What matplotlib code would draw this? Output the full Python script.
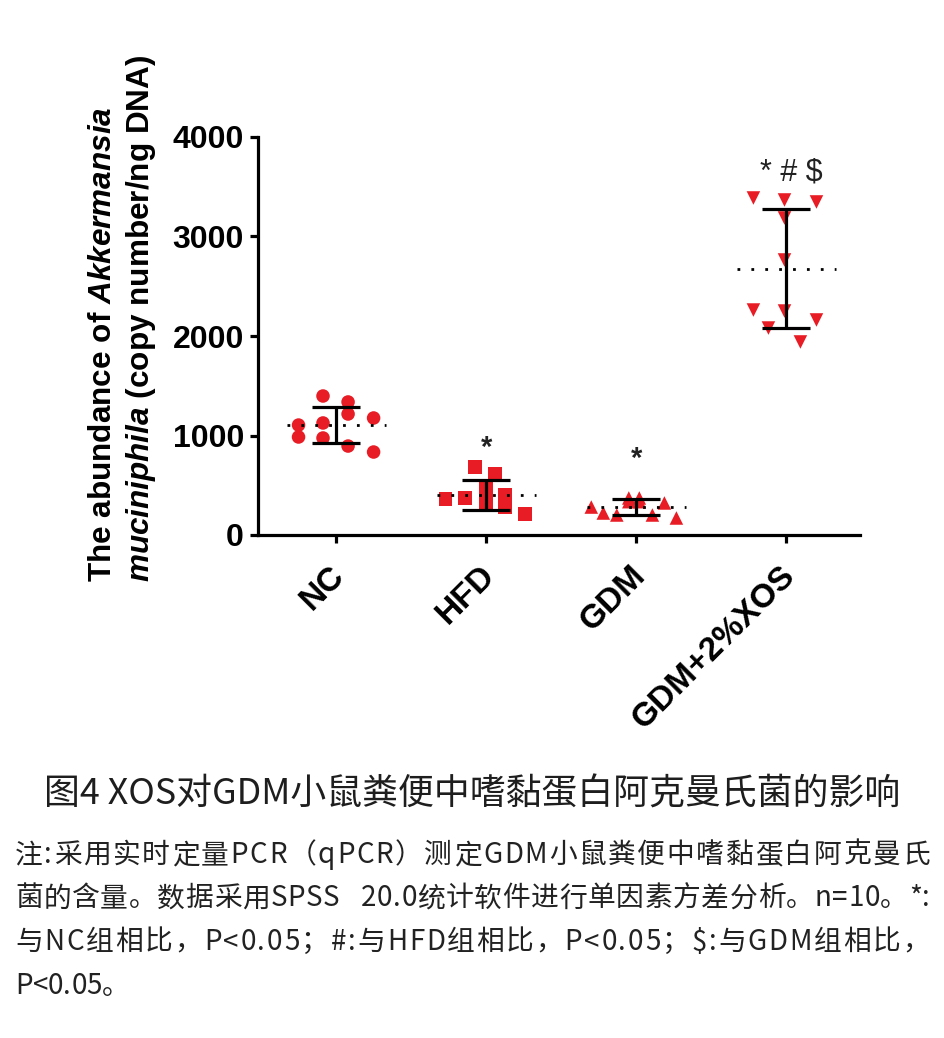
import numpy as np
import matplotlib
matplotlib.use("Agg")
from matplotlib import pyplot as plt
from matplotlib import transforms
from matplotlib.font_manager import findfont, FontProperties, get_font

# data (copy number / ng DNA)
groups = ["NC", "HFD", "GDM", "GDM+2%XOS"]
nc_vals = [1397, 1337, 1216, 1176, 1105, 1126, 985, 975, 894, 834]
hfd_vals = [683, 613, 362, 372, 402, 281, 211, 462, 322, 312]
gdm_vals = [281, 221, 201, 372, 372, 201, 322, 171, 335, 335]
xos_vals = [3387, 3367, 3347, 3186, 2764, 2261, 2251, 2161, 2080, 1940]
sig_labels = ["", "*", "*", "* # $"]
sig_heights = [0, 874, 764, 3648]
y_ticks = [0, 1000, 2000, 3000, 4000]

# horizontal scatter of the points inside each group (layout only)
jitter = [
    [-0.087, 0.08, 0.08, 0.25, -0.25, -0.087, -0.25, -0.087, 0.08, 0.25],
    [-0.073, 0.06, -0.27, -0.14, 0.127, 0.127, 0.26, 0.0, 0.0, 0.127],
    [-0.30, -0.22, -0.13, -0.05, 0.02, 0.107, 0.187, 0.267, -0.05, 0.02],
    [-0.22, -0.013, 0.20, -0.013, -0.013, -0.22, -0.013, 0.20, -0.12, 0.093],
]
markers = ["o", "s", "^", "v"]
RED = "#e81c24"
W, H = 945, 1038

plt.rcParams["font.family"] = ["Liberation Sans", "DejaVu Sans"]
plt.rcParams["mathtext.fontset"] = "custom"
plt.rcParams["mathtext.it"] = "Liberation Sans:italic:bold"
plt.rcParams["mathtext.rm"] = "Liberation Sans:bold"

fig = plt.figure(figsize=(W / 100, H / 100), dpi=100)
ax = fig.add_axes([258 / W, 1 - 535 / H, 602 / W, 398 / H])

all_vals = [nc_vals, hfd_vals, gdm_vals, xos_vals]
for i, vals in enumerate(all_vals):
    vals = np.array(vals, dtype=float)
    xs = i + np.array(jitter[i])
    ax.scatter(xs, vals, marker=markers[i], s=95, color=RED, edgecolors="none", zorder=2)
    mean = vals.mean()
    sd = vals.std(ddof=1)
    ax.errorbar(i, mean, yerr=sd, fmt="none", ecolor="black", elinewidth=2.3,
                capsize=17, capthick=2.3, zorder=3)
    ax.plot([i - 0.33, i + 0.33], [mean, mean], color="black", lw=2,
            linestyle=(0, (1, 4)), zorder=4)
    if sig_labels[i]:
        if i == 3:
            ax.text(i + 0.03, sig_heights[i], sig_labels[i], ha="center", va="center",
                    fontsize=22, color="#222222")
        else:
            ax.text(i, sig_heights[i], sig_labels[i], ha="center", va="center",
                    fontsize=21, fontweight="bold", color="#222222")

ax.set_xlim(-0.52, 3.49)
ax.set_ylim(0, 4000)
ax.set_yticks(y_ticks)
ax.set_yticklabels([str(t) for t in y_ticks], fontsize=23, fontweight="bold")
ax.set_xticks(range(len(groups)))
ax.set_xticklabels([])
# rotated category labels, anchored a little below-left of each tick
lab_tr = ax.get_xaxis_transform() + transforms.ScaledTranslation(-0.07, -0.25, fig.dpi_scale_trans)
for i, g in enumerate(groups):
    ax.text(i, 0, g, transform=lab_tr, fontsize=24, fontweight="bold", rotation=45,
            ha="right", va="top", rotation_mode="anchor")
for side in ["top", "right"]:
    ax.spines[side].set_visible(False)
for side in ["left", "bottom"]:
    ax.spines[side].set_linewidth(2.3)
ax.tick_params(axis="both", width=2.3, length=6, direction="out", pad=4)

fig.text(123 / W, 1 - 318 / H,
         "The abundance of $\\mathit{Akkermansia}$\n$\\mathit{muciniphila}$ (copy number/ng DNA)",
         rotation=90, ha="center", va="center", multialignment="left",
         fontsize=22.7, fontweight="bold", linespacing=1.22)

cjk = ["Noto Sans CJK SC", "DejaVu Sans"]
fig.text(0.5, 1 - 795 / H, "图4 XOS对GDM小鼠粪便中嗜黏蛋白阿克曼氏菌的影响",
         ha="center", va="center", fontsize=25.8, family=cjk, color="#1e1e1e")

note_lines = [
    "注:采用实时定量PCR（qPCR）测定GDM小鼠粪便中嗜黏蛋白阿克曼氏",
    "菌的含量。数据采用SPSS   20.0统计软件进行单因素方差分析。n=10。*:",
    "与NC组相比，P<0.05；#:与HFD组相比，P<0.05；$:与GDM组相比，",
    "P<0.05。",
]
note_size = 20
ft = get_font(findfont(FontProperties(family="Noto Sans CJK SC")))
ft.set_size(note_size, 100)


def advance(ch):
    return ft.load_char(ord(ch)).linearHoriAdvance / 65536


# justified paragraph, last line left aligned
x_left, x_right = 15, 930
for k, line in enumerate(note_lines):
    y = 1 - (855 + 43.5 * k) / H
    widths = [advance(ch) for ch in line]
    gap = 0.0
    if k < len(note_lines) - 1:
        gap = (x_right - x_left - sum(widths)) / (len(line) - 1)
    x = x_left
    for ch, w in zip(line, widths):
        if ch != " ":
            fig.text(x / W, y, ch, ha="left", va="center", fontsize=note_size,
                     family=cjk, color="#222222")
        x += w + gap

fig.savefig("out.png", dpi=100, facecolor="white")
